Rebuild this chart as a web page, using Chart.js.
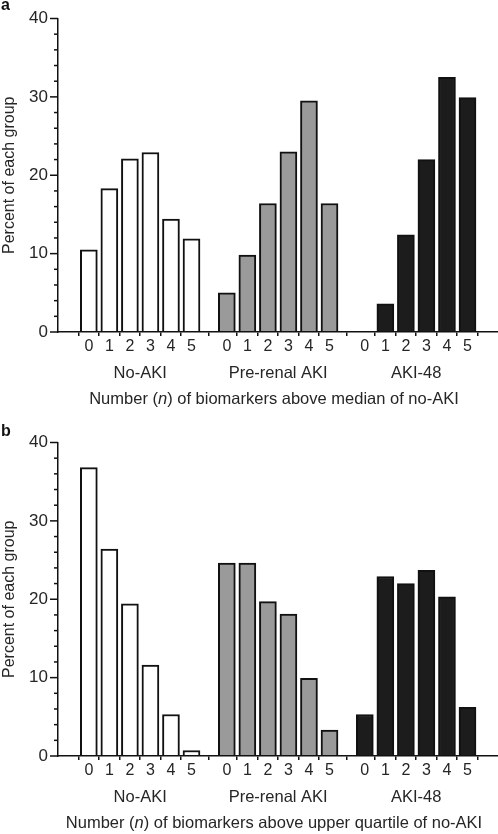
<!DOCTYPE html>
<html><head><meta charset="utf-8">
<script src="https://cdn.jsdelivr.net/npm/chart.js@4.4.1/dist/chart.umd.min.js"></script>
<style>
html,body{margin:0;padding:0;background:#fff;}
#wrap{position:relative;width:498px;height:834px;overflow:hidden;font-family:"Liberation Sans",Arial,sans-serif;color:#262626;}
.panel{position:absolute;left:0;width:498px;height:409px;}
.panel canvas{position:absolute;left:0;top:0;}
.plabel{position:absolute;left:1px;font-weight:bold;font-size:16px;line-height:16px;color:#111;}
.xtitle{position:absolute;left:0;width:548px;text-align:center;font-size:16.5px;line-height:16px;white-space:nowrap;}
</style></head>
<body><div id="wrap">
<div class="panel" id="pa" style="top:0px"><canvas id="ca" width="498" height="409"></canvas><div class="plabel" style="top:-3px">a</div><div class="xtitle" style="top:390px">Number (<i>n</i>) of biomarkers above median of no-AKI</div></div>
<div class="panel" id="pb" style="top:424px"><canvas id="cb" width="498" height="409"></canvas><div class="plabel" style="top:-1px">b</div><div class="xtitle" style="top:390px">Number (<i>n</i>) of biomarkers above upper quartile of no-AKI</div></div>
</div>
<script>
// ---- data ----
const GROUPS = ['No-AKI', 'Pre-renal AKI', 'AKI-48'];
const COUNTS = ['0', '1', '2', '3', '4', '5'];
const Y_TICKS = [0, 10, 20, 30, 40];

// panel a: number of biomarkers above median of no-AKI (percent of each group)
const medianNoAKI    = [10.5, 18.3, 22.1, 22.9, 14.4, 11.9];
const medianPreRenal = [5.0, 9.8, 16.4, 23.0, 29.5, 16.4];
const medianAKI48    = [0, 3.6, 12.4, 22.0, 32.5, 29.9];

// panel b: number of biomarkers above upper quartile of no-AKI
const quartileNoAKI    = [36.8, 26.4, 19.4, 11.6, 5.3, 0.7];
const quartilePreRenal = [24.6, 24.6, 19.7, 18.1, 9.9, 3.3];
const quartileAKI48    = [5.3, 22.9, 22.0, 23.7, 20.3, 6.2];

// ---- layout / style ----
const GROUP_OFFSET = 6.72;
const FILLS = ['#ffffff', '#9a9a9a', '#1c1c1c'];
const TEXT = '#262626';
const FONT = '"Liberation Sans", Arial, sans-serif';

function positions() {
  const p = [];
  GROUPS.forEach((g, gi) => COUNTS.forEach((c, ci) => p.push(gi * GROUP_OFFSET + ci)));
  return p;
}

const axisDecor = {
  id: 'axisDecor',
  afterDraw(chart) {
    const { ctx, chartArea, scales: { x, y } } = chart;
    ctx.save();
    ctx.strokeStyle = '#111';
    ctx.lineWidth = 1.5;
    y.ticks.forEach(t => {
      const py = y.getPixelForValue(t.value);
      const len = Y_TICKS.includes(t.value) ? 8 : 4;
      ctx.beginPath();
      ctx.moveTo(chartArea.left - len, py);
      ctx.lineTo(chartArea.left, py);
      ctx.stroke();
    });
    ctx.fillStyle = TEXT;
    ctx.font = '16.5px ' + FONT;
    ctx.textAlign = 'center';
    ctx.textBaseline = 'alphabetic';
    GROUPS.forEach((g, gi) => {
      const px = x.getPixelForValue(gi * GROUP_OFFSET + 2.5);
      ctx.fillText(g, px, chartArea.bottom + 45.5);
    });
    ctx.restore();
  }
};

function makeChart(id, series) {
  const datasets = series.map((vals, gi) => ({
    data: vals.map((v, ci) => ({ x: gi * GROUP_OFFSET + ci, y: v })),
    backgroundColor: FILLS[gi],
    borderColor: '#111',
    borderWidth: 2,
    barThickness: 17,
    grouped: false
  }));
  return new Chart(document.getElementById(id), {
    type: 'bar',
    data: { datasets },
    options: {
      responsive: false,
      animation: false,
      events: [],
      layout: { padding: { top: 9, right: 0, left: 0, bottom: 0 } },
      plugins: { legend: { display: false }, tooltip: { enabled: false } },
      scales: {
        x: {
          type: 'linear',
          min: -0.906,
          max: 19.33,
          afterBuildTicks: s => { s.ticks = positions().map(v => ({ value: v })); },
          afterFit: s => { s.height = 77; },
          ticks: {
            autoSkip: false, maxRotation: 0, padding: 1,
            color: TEXT, font: { family: FONT, size: 16 },
            callback: (v, i) => COUNTS[i % COUNTS.length]
          },
          grid: { drawOnChartArea: false, drawTicks: true, tickLength: 4, color: '#111', lineWidth: 1.5 },
          border: { display: true, color: '#111', width: 1.5, z: 1 }
        },
        y: {
          min: 0, max: 40,
          afterFit: s => { s.width = 58; },
          ticks: {
            stepSize: 2, padding: 10, autoSkip: false, color: TEXT,
            font: { family: FONT, size: 17, lineHeight: 1 },
            callback: v => (Y_TICKS.includes(v) ? String(v) : '')
          },
          grid: { drawOnChartArea: false, drawTicks: false },
          border: { display: true, color: '#111', width: 1.5 },
          title: { display: true, text: 'Percent of each group', color: TEXT, font: { family: FONT, size: 16 }, padding: 0 }
        }
      }
    },
    plugins: [axisDecor]
  });
}

makeChart('ca', [medianNoAKI, medianPreRenal, medianAKI48]);
makeChart('cb', [quartileNoAKI, quartilePreRenal, quartileAKI48]);
</script>
</body></html>
